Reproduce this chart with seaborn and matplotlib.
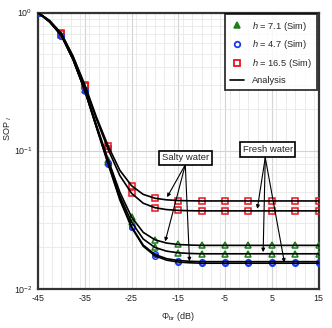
import numpy as np
import pandas as pd
import matplotlib
matplotlib.use("Agg")
import matplotlib.pyplot as plt
from matplotlib.lines import Line2D
from matplotlib.ticker import FixedLocator, MultipleLocator, LogLocator, NullFormatter
import seaborn as sns

# ---------------- data ----------------
phi_ana = [-45, -42.5, -40, -37.5, -35, -32.5, -30, -27.5, -25, -22.5,
           -20, -17.5, -15, -12.5, -10, -5, 0, 5, 10, 15]

# analysis curves, salty (upper) / fresh (lower) water for each h
red_salty = [1.0, 0.875, 0.705, 0.483, 0.300, 0.175, 0.108, 0.072, 0.0557, 0.0482,
             0.0452, 0.0440, 0.0435, 0.0433, 0.0432, 0.0432, 0.0432, 0.0432, 0.0432, 0.0432]
red_fresh = [1.0, 0.870, 0.700, 0.477, 0.294, 0.169, 0.102, 0.066, 0.0491, 0.0416,
             0.0386, 0.0374, 0.0369, 0.0367, 0.0366, 0.0366, 0.0366, 0.0366, 0.0366, 0.0366]
green_salty = [1.0, 0.858, 0.686, 0.461, 0.278, 0.153, 0.086, 0.050, 0.0331, 0.0256,
               0.0226, 0.0214, 0.0209, 0.0207, 0.0206, 0.0206, 0.0206, 0.0206, 0.0206, 0.0206]
green_fresh = [1.0, 0.856, 0.683, 0.458, 0.275, 0.150, 0.083, 0.047, 0.0304, 0.0229,
               0.0199, 0.0187, 0.0182, 0.0180, 0.0179, 0.0179, 0.0179, 0.0179, 0.0179, 0.0179]
blue_salty = [1.0, 0.855, 0.681, 0.456, 0.273, 0.148, 0.081, 0.045, 0.0282, 0.0207,
              0.0177, 0.0165, 0.0160, 0.0158, 0.0157, 0.0157, 0.0157, 0.0157, 0.0157, 0.0157]
blue_fresh = [1.0, 0.854, 0.680, 0.455, 0.272, 0.147, 0.080, 0.044, 0.0278, 0.0203,
              0.0173, 0.0161, 0.0156, 0.0154, 0.0153, 0.0153, 0.0153, 0.0153, 0.0153, 0.0153]

# simulation markers sit on the analysis curves every 5 dB
phi_sim = [-45, -40, -35, -30, -25, -20, -15, -10, -5, 0, 5, 10, 15]

h_labels = ["7.1", "4.7", "16.5"]
x_ticks = [-45, -35, -25, -15, -5, 5, 15]

# ---------------- styling ----------------
sns.set_theme(style="white")
plt.rcParams["font.family"] = ["Liberation Sans", "DejaVu Sans"]
plt.rcParams["mathtext.fontset"] = "custom"
plt.rcParams["mathtext.rm"] = "Liberation Sans"
plt.rcParams["mathtext.it"] = "Liberation Sans:italic"
plt.rcParams["axes.unicode_minus"] = False

RED, GREEN, BLUE = "#e8141c", "#1e7d1e", "#1a3cf0"
curves = {
    "red_salty": (red_salty, RED, "s"),
    "red_fresh": (red_fresh, RED, "s"),
    "green_salty": (green_salty, GREEN, "^"),
    "green_fresh": (green_fresh, GREEN, "^"),
    "blue_salty": (blue_salty, BLUE, "o"),
    "blue_fresh": (blue_fresh, BLUE, "o"),
}

rows = []
for name, (vals, col, mk) in curves.items():
    for p, v in zip(phi_ana, vals):
        rows.append({"curve": name, "phi": p, "sop": v})
df = pd.DataFrame(rows)

fig = plt.figure(figsize=(3.32, 3.28), dpi=100)
ax = fig.add_axes([0.1145, 0.1198, 0.845, 0.842])

for name, (vals, col, mk) in curves.items():
    sub = df[df["curve"] == name]
    sim = sub[sub["phi"].isin(phi_sim)]
    ax.plot(sim["phi"], sim["sop"], linestyle="none", marker=mk, markersize=4,
            markerfacecolor="none", markeredgecolor=col, markeredgewidth=1.1, zorder=3)
    sns.lineplot(data=sub, x="phi", y="sop", color="black", linewidth=1.2,
                 estimator=None, sort=False, ax=ax, zorder=4)

ax.set_yscale("log")
ax.set_xlim(-45, 15)
ax.set_ylim(0.01, 1.0)
ax.xaxis.set_major_locator(FixedLocator(x_ticks))
ax.xaxis.set_minor_locator(MultipleLocator(2))
ax.yaxis.set_major_locator(LogLocator(base=10))
ax.yaxis.set_minor_locator(LogLocator(base=10, subs=np.arange(2, 10)))
ax.yaxis.set_minor_formatter(NullFormatter())
ax.grid(which="major", color="#d4d4d4", linewidth=0.8)
ax.grid(which="minor", color="#e8e8e8", linewidth=0.6)
ax.set_axisbelow(True)
ax.tick_params(which="both", length=0, labelsize=6.4, pad=4, colors="#222222")
for sp in ax.spines.values():
    sp.set_color("#333333")
    sp.set_linewidth(1.6)

ax.set_xlabel(r"$\Phi_{\rm br}$ (dB)", fontsize=6.5, labelpad=5)
ax.set_ylabel(r"SOP $_{I}$", fontsize=6.5, labelpad=6)
ax.yaxis.set_label_coords(-0.085, 0.58)

# legend
handles = [
    Line2D([], [], linestyle="none", marker="^", markersize=4, markerfacecolor=GREEN,
           markeredgecolor=GREEN, markeredgewidth=1.1),
    Line2D([], [], linestyle="none", marker="o", markersize=4, markerfacecolor="none",
           markeredgecolor=BLUE, markeredgewidth=1.3),
    Line2D([], [], linestyle="none", marker="s", markersize=4, markerfacecolor="none",
           markeredgecolor=RED, markeredgewidth=1.3),
    Line2D([], [], color="black", linewidth=1.2),
]
labels = [rf"$h$ = {h} (Sim)" for h in h_labels] + ["Analysis"]
leg = ax.legend(handles, labels, loc="upper right", bbox_to_anchor=(1, 1),
                fontsize=6.7, frameon=True, fancybox=False, borderaxespad=0.2,
                borderpad=0.55, labelspacing=0.62, handlelength=1.5, handletextpad=0.8)
leg.get_frame().set_edgecolor("black")
leg.get_frame().set_linewidth(1.3)
leg.set_zorder(6)

# annotations
box = dict(boxstyle="square,pad=0.3", facecolor="white", edgecolor="black", linewidth=1.2)
arrow = dict(arrowstyle="-|>", color="black", lw=0.8, mutation_scale=5,
             shrinkA=0, shrinkB=0)

salty_tips = [(-17.4, 0.046), (-17.8, 0.022), (-12.6, 0.0158)]
fresh_tips = [(1.9, 0.0379), (3.15, 0.0184), (7.7, 0.01548)]

for tip in salty_tips:
    ax.annotate("", xy=tip, xytext=(-13.5, 0.079), arrowprops=arrow, zorder=5)
for tip in fresh_tips:
    ax.annotate("", xy=tip, xytext=(3.6, 0.089), arrowprops=arrow, zorder=5)
ax.text(-13.4, 0.0885, "Salty water", fontsize=6.8, ha="center", va="center",
        bbox=box, zorder=6)
ax.text(4.1, 0.102, "Fresh water", fontsize=6.8, ha="center", va="center",
        bbox=box, zorder=6)

fig.savefig("out.png", dpi=100)
